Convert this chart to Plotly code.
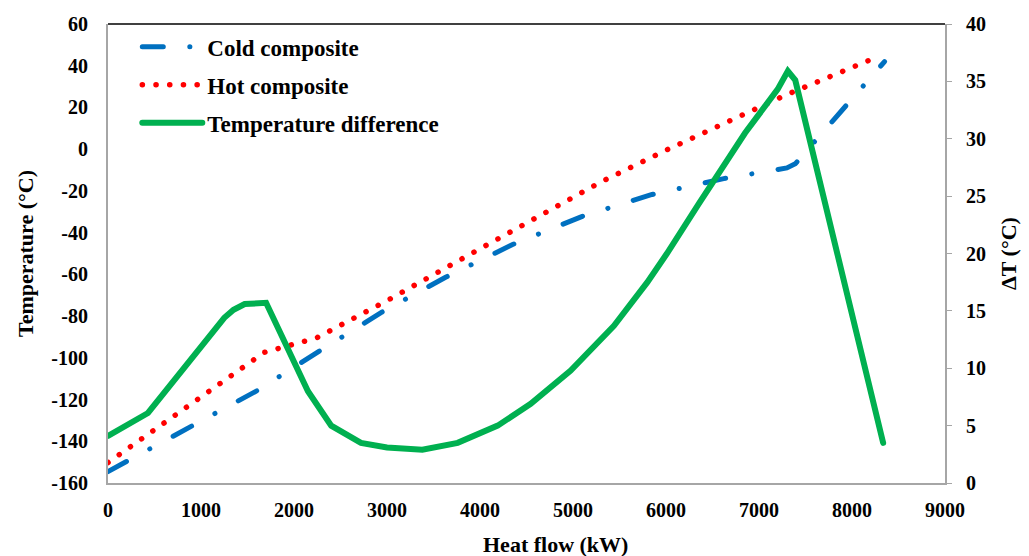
import plotly.graph_objects as go

# Cold composite curve: heat flow (kW) vs temperature (°C)
heat_cold = [0, 1600, 2280, 2940, 3630, 4350, 5100, 5850, 6620, 7300, 7390, 8350]
temp_cold = [-154.5, -115.8, -96.6, -78.2, -61.4, -45.7, -32.2, -21.7, -14.1, -9.0, -7.0, 42.0]

# Hot composite curve
heat_hot = [0, 1580, 1680, 2240, 3000, 3900, 5300, 6000, 7300, 8250]
temp_hot = [-150.2, -100.3, -97.4, -90.5, -72.6, -50.2, -15.7, -0.5, 26.2, 43.8]

# Temperature difference between the composites (right axis)
heat_dt = [0, 430, 1250, 1350, 1470, 1700, 2150, 2400, 2720, 3000, 3380, 3760,
           4190, 4545, 4975, 5440, 5800, 6010, 6350, 6850, 7200, 7310, 7390, 8335]
delta_t = [4.1, 6.1, 14.4, 15.1, 15.6, 15.7, 8.0, 5.0, 3.5, 3.1, 2.9, 3.5,
           5.0, 6.9, 9.8, 13.7, 17.5, 20.0, 24.3, 30.5, 34.3, 35.9, 35.1, 3.5]

x_ticks = list(range(0, 9001, 1000))
y_left_ticks = list(range(-160, 61, 20))
y_right_ticks = list(range(0, 41, 5))

FONT = "Liberation Serif"
BLUE = "#0070C0"
RED = "#FF0000"
GREEN = "#00B050"

fig = go.Figure()

fig.add_trace(go.Scatter(
    x=heat_cold, y=temp_cold, mode="lines", name="Cold composite",
    legendgroup="a",
    line=dict(color=BLUE, width=5, dash="21px,26.5px,0.1px,26.5px"),
))
fig.add_trace(go.Scatter(
    x=heat_hot, y=temp_hot, mode="lines", name="Hot composite",
    legendgroup="b",
    line=dict(color=RED, width=5.5, dash="0.1px,13.6px"),
))
fig.add_trace(go.Scatter(
    x=heat_dt, y=delta_t, mode="lines", name="Temperature difference",
    legendgroup="c", yaxis="y2",
    line=dict(color=GREEN, width=6),
))

tick_font = dict(family=FONT, size=20, color="#000000", weight="bold")
title_font = dict(family=FONT, size=22, color="#000000", weight="bold")

fig.update_layout(
    width=1029, height=556,
    margin=dict(l=108, r=81, t=24, b=73),
    paper_bgcolor="white", plot_bgcolor="white",
    showlegend=True,
    legend=dict(
        x=0.035, y=0.997, xanchor="left", yanchor="top",
        bgcolor="rgba(0,0,0,0)", borderwidth=0,
        font=dict(family=FONT, size=23, color="#000000", weight="bold"),
        itemwidth=60, tracegroupgap=5, traceorder="grouped",
    ),
    xaxis=dict(
        range=[0, 9000], tickvals=x_ticks, ticktext=[str(v) for v in x_ticks],
        showgrid=False, zeroline=False, showline=True, linecolor="#A6A6A6",
        linewidth=2, ticks="", tickfont=tick_font, ticklabelstandoff=8,
    ),
    yaxis=dict(
        range=[-160, 60], tickvals=y_left_ticks, ticktext=[str(v) for v in y_left_ticks],
        showgrid=False, zeroline=False, showline=True, linecolor="#A6A6A6",
        linewidth=2, ticks="", tickfont=tick_font, ticklabelstandoff=14,
        title=dict(text="Temperature (°C)", font=title_font, standoff=12),
    ),
    yaxis2=dict(
        range=[0, 40], tickvals=y_right_ticks, ticktext=[str(v) for v in y_right_ticks],
        overlaying="y", side="right",
        showgrid=False, zeroline=False, showline=True, linecolor="#A6A6A6",
        linewidth=2, ticks="outside", ticklen=5, tickcolor="#A6A6A6", tickwidth=1,
        tickfont=tick_font, ticklabelstandoff=10,
        title=dict(text="ΔT (°C)", font=title_font, standoff=16),
    ),
    shapes=[dict(type="line", xref="paper", yref="paper", x0=0, x1=1, y0=1, y1=1,
                 line=dict(color="#404040", width=2))],
    annotations=[dict(text="Heat flow (kW)", xref="paper", yref="paper",
                      x=0.535, y=-0.135, xanchor="center", yanchor="middle",
                      showarrow=False, font=title_font)],
)

round_caps = ("document.querySelectorAll('path.js-line').forEach(function(p)"
              "{p.style.strokeLinecap='round';});")

fig.write_html("out.html", post_script=round_caps)
